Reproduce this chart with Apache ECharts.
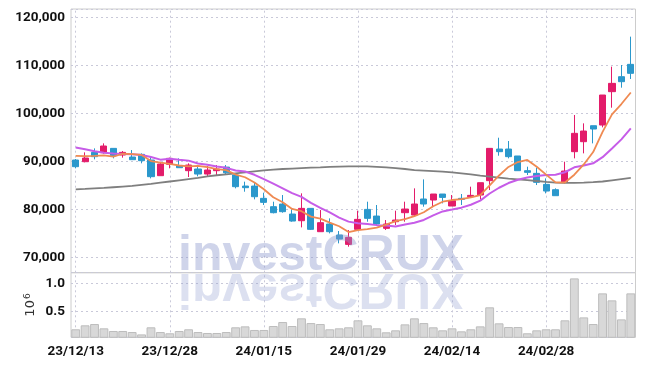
<!DOCTYPE html>
<html><head><meta charset="utf-8">
<script src="https://cdn.jsdelivr.net/npm/echarts@6/dist/echarts.min.js"></script>
<style>html,body{margin:0;padding:0;background:#fff}#c{width:645px;height:366px}</style>
</head><body><div id="c"></div>
<script>
const dates = ['23/12/13','23/12/14','23/12/15','23/12/18','23/12/19','23/12/20','23/12/21','23/12/22','23/12/26','23/12/27',
'23/12/28','24/01/02','24/01/03','24/01/04','24/01/05','24/01/08','24/01/09','24/01/10','24/01/11','24/01/12',
'24/01/15','24/01/16','24/01/17','24/01/18','24/01/19','24/01/22','24/01/23','24/01/24','24/01/25','24/01/26',
'24/01/29','24/01/30','24/01/31','24/02/01','24/02/02','24/02/05','24/02/06','24/02/07','24/02/08','24/02/13',
'24/02/14','24/02/15','24/02/16','24/02/19','24/02/20','24/02/21','24/02/22','24/02/23','24/02/26','24/02/27',
'24/02/28','24/02/29','24/03/04','24/03/05','24/03/06','24/03/07','24/03/08','24/03/11','24/03/12','24/03/13'];
const tickDates = ['23/12/13','23/12/28','24/01/15','24/01/29','24/02/14','24/02/28'];

const openP = [90270,89920,91870,91800,92700,91310,90900,91450,90270,87010,
89370,89020,88050,88400,87350,88050,88800,87150,84850,84850,
82290,80550,81100,79020,77630,80200,75340,76940,74650,72700,
75830,79990,78600,76040,77420,79300,78810,82150,81940,83190,
80690,82290,82630,82980,85970,92560,92560,91110,88050,87490,
85200,84090,85620,92010,94090,97420,97560,104510,107630,110200];
const closeP = [88880,90690,90970,93190,91170,91870,90340,90130,86800,89440,
90620,88670,89230,87350,88190,88400,87600,84720,84510,82630,
81450,79300,79510,77560,80200,75830,77220,75340,73810,74160,
77910,78120,76940,76940,77770,80060,81110,81110,83190,82490,
81800,82080,82910,85550,92700,92010,90970,88050,87700,85620,
83810,82840,87980,95830,96310,96730,103810,106240,106590,108330];
const lowP = [88540,89790,90410,91590,90620,90760,90340,89580,86450,87010,
88540,88670,86730,86870,86800,87150,87150,84370,83670,82080,
80900,79160,79300,77420,76240,75690,75340,74990,72910,72220,
75550,77420,76520,75690,76730,77420,78600,80550,80550,81240,
80690,80900,82630,82080,84020,91170,90620,88050,87150,85060,
83330,82840,85410,90620,91660,93740,97080,101170,105340,107150];
const highP = [90480,91870,92700,93740,92700,92150,92350,91660,90970,89920,
90760,90620,89580,88880,89020,89230,89230,87150,85760,85550,
83470,81590,82980,79990,83330,80200,79850,78120,75480,75690,
79720,81590,80900,77770,79720,81590,84370,86240,83190,83190,
82980,83190,84720,85550,92700,94920,94230,91110,88880,88670,
86450,84370,89920,99650,97910,97420,103810,109720,110060,115970];

const ma5 = [91150,91100,91150,91250,90980,91578,91508,91340,90062,89716,
89466,89132,88952,89062,88812,88368,88154,87252,86684,85572,
84182,82522,81480,80090,79604,78480,78064,77230,76480,75272,
75688,75868,76188,76814,77536,77966,78564,79398,80648,81592,
81940,82134,82494,82966,85008,87050,88828,89856,90286,88870,
87230,85604,85590,87216,89354,91938,96132,99784,101936,104340];
const ma10 = [92900,92500,92100,91800,91650,91550,91450,91300,90900,90348,
90522,90320,90146,89562,89264,88917,88643,88102,87873,87192,
86275,85338,84366,83387,82588,81331,80293,79355,78285,77438,
77084,76966,76709,76647,76404,76827,77216,77793,78731,79564,
79953,80349,80946,81807,83300,84495,85481,86175,86626,86939,
87140,87216,87723,88751,89112,89584,90868,92687,94576,96847];
const maLong = [84160,84250,84350,84450,84600,84750,84900,85100,85300,85550,
85800,86050,86300,86550,86850,87100,87300,87500,87700,87900,
88100,88250,88400,88500,88600,88700,88750,88850,88900,88950,
88950,88950,88850,88750,88600,88400,88150,88050,87950,87850,
87700,87500,87300,87000,86800,86600,86400,86250,86100,85900,
85700,85550,85500,85500,85550,85650,85800,86050,86300,86550];

const volume = [0.19,0.26,0.283,0.207,0.16,0.16,0.142,0.10,0.225,0.142,
0.12,0.16,0.19,0.142,0.125,0.125,0.142,0.225,0.242,0.178,
0.178,0.248,0.318,0.248,0.383,0.30,0.283,0.19,0.207,0.225,
0.348,0.26,0.207,0.137,0.172,0.277,0.383,0.30,0.225,0.172,
0.207,0.154,0.19,0.242,0.577,0.295,0.23,0.23,0.12,0.172,
0.19,0.19,0.348,1.087,0.40,0.283,0.823,0.70,0.365,0.823];

const UP = '#e31c6a', DOWN = '#2b98cc';
const labelFont = "Roboto,'Liberation Sans',sans-serif";
const candleData = dates.map((d, i) => [openP[i], closeP[i], lowP[i], highP[i]]);
const vLines = {
  silent: true, symbol: ['none', 'none'], z: 1, animation: false,
  label: { show: false },
  lineStyle: { type: [2, 3], color: '#c9c9d9', width: 1 },
  emphasis: { disabled: true },
  data: tickDates.map(d => ({ xAxis: d }))
};
const axisLabelBase = { margin: 6, color: '#111', fontSize: 13.5, fontWeight: 'bold', fontFamily: labelFont };

const chart = echarts.init(document.getElementById('c'), null, { renderer: 'canvas' });
chart.setOption({
  animation: false,
  backgroundColor: '#fff',
  grid: [
    { left: 71, top: 9, width: 564.5, height: 263.7, show: true, borderColor: '#cccccc', borderWidth: 1, containLabel: false, outerBoundsMode: 'none' },
    { left: 71, top: 272.7, width: 564.5, height: 64.6, show: true, borderColor: '#cccccc', borderWidth: 1, containLabel: false, outerBoundsMode: 'none' }
  ],
  xAxis: [
    { type: 'category', gridIndex: 0, data: dates, boundaryGap: true,
      axisLine: { show: false }, axisTick: { show: false }, axisLabel: { show: false }, splitLine: { show: false } },
    { type: 'category', gridIndex: 1, data: dates, boundaryGap: true,
      axisLine: { show: false }, axisTick: { show: false }, splitLine: { show: false },
      axisLabel: Object.assign({ interval: (idx, val) => tickDates.includes(val) }, axisLabelBase, { margin: 7 }) }
  ],
  yAxis: [
    { type: 'value', gridIndex: 0, min: 66800, max: 121730, splitNumber: 5, scale: true,
      axisLine: { show: false }, axisTick: { show: false },
      axisLabel: Object.assign({ showMinLabel: false, showMaxLabel: false }, axisLabelBase),
      splitLine: { show: true, lineStyle: { type: [2, 3], color: '#c9c9d9', width: 1 } } },
    { type: 'value', gridIndex: 1, min: 0.049, max: 1.187, splitNumber: 2, scale: true,
      axisLine: { show: false }, axisTick: { show: false },
      axisLabel: Object.assign({ showMinLabel: false, showMaxLabel: false, formatter: v => v.toFixed(1) }, axisLabelBase),
      splitLine: { show: true, lineStyle: { type: [2, 3], color: '#c9c9d9', width: 1 } },
      name: '{b|10}{s|6}', nameLocation: 'middle', nameRotate: 90, nameGap: 33, nameMoveOverlap: false,
      nameTextStyle: { rich: {
        b: { fontSize: 13, fontFamily: 'DejaVu Sans, sans-serif', color: '#333' },
        s: { fontSize: 9, fontFamily: 'DejaVu Sans, sans-serif', color: '#333', verticalAlign: 'top', padding: [0, 0, 6, 1] } } } }
  ],
  series: [
    { type: 'candlestick', xAxisIndex: 0, yAxisIndex: 0, data: candleData, barWidth: '70%', z: 2,
      itemStyle: { color: UP, color0: DOWN, borderColor: UP, borderColor0: DOWN, borderWidth: 1 },
      markLine: vLines },
    { type: 'line', xAxisIndex: 0, yAxisIndex: 0, data: maLong, showSymbol: false, symbol: 'none', z: 3,
      lineStyle: { color: '#7f7f7f', width: 1.8 } },
    { type: 'line', xAxisIndex: 0, yAxisIndex: 0, data: ma10, showSymbol: false, symbol: 'none', z: 3,
      lineStyle: { color: '#c65ce8', width: 2 } },
    { type: 'line', xAxisIndex: 0, yAxisIndex: 0, data: ma5, showSymbol: false, symbol: 'none', z: 4,
      lineStyle: { color: '#ef8a52', width: 1.8 } },
    { type: 'bar', xAxisIndex: 1, yAxisIndex: 1, data: volume, barWidth: '94%', z: 2,
      itemStyle: { color: '#d8d8d8', borderColor: '#bdbdbd', borderWidth: 1 },
      markLine: vLines }
  ],
  graphic: [
    { type: 'text', x: 178, y: 256.5, z: 100, silent: true,
      style: { text: 'investCRUX', font: "bold 50px 'Liberation Sans', Arial, sans-serif", fill: 'rgba(140,152,205,0.42)', align: 'left', verticalAlign: 'middle' } },
    { type: 'text', x: 178, y: 287.5, scaleY: -1, z: 100, silent: true,
      style: { text: 'investCRUX', font: "bold 50px 'Liberation Sans', Arial, sans-serif", fill: 'rgba(140,152,205,0.3)', align: 'left', verticalAlign: 'middle' } }
  ]
});
</script></body></html>
